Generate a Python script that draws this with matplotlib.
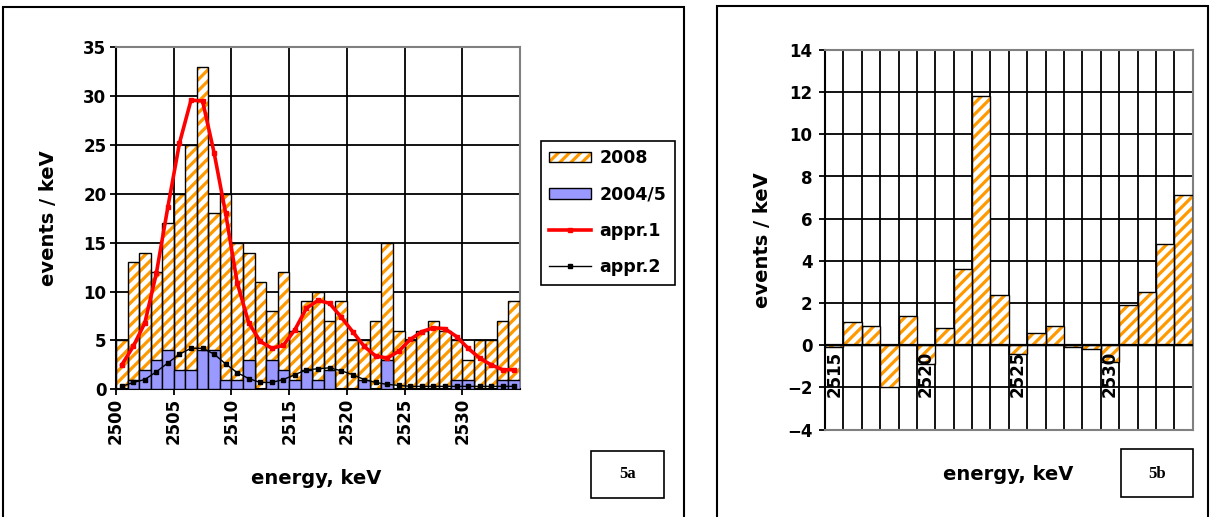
import matplotlib
matplotlib.use('Agg')
import matplotlib.pyplot as plt
from matplotlib.patches import Rectangle, Patch
from matplotlib.lines import Line2D
from matplotlib.legend_handler import HandlerTuple

plt.rcParams['font.family'] = ['DejaVu Sans']
plt.rcParams['font.weight'] = 'bold'
plt.rcParams['hatch.linewidth'] = 2.3

# ---------------- data ----------------
energy_a = list(range(2500, 2535))
counts_2008 = [5, 13, 14, 12, 17, 20, 25, 33, 18, 20, 15, 14, 11, 8, 12, 6, 9, 10,
               7, 9, 5, 5, 7, 15, 6, 5, 6, 7, 6, 5, 3, 5, 5, 7, 9]
counts_2004 = [0, 1, 2, 3, 4, 2, 2, 4, 4, 1, 1, 3, 0, 3, 2, 1, 2, 1,
               2, 0, 0, 1, 0, 3, 0, 0, 0, 0, 0, 1, 1, 0, 0, 1, 1]
appr1 = [2.5, 4.4, 6.8, 11.9, 18.7, 25.2, 29.6, 29.5, 24.2, 18.0, 10.9, 6.8, 4.9,
         4.2, 4.5, 6.1, 8.3, 9.1, 8.8, 7.4, 5.9, 4.4, 3.4, 3.2, 3.9, 5.1, 5.9, 6.3,
         6.2, 5.4, 4.2, 3.2, 2.5, 2.0, 2.0]
appr2 = [0.3, 0.7, 1.0, 1.8, 2.7, 3.6, 4.2, 4.2, 3.6, 2.6, 1.7, 1.1, 0.7, 0.7, 1.0,
         1.5, 2.0, 2.1, 2.2, 1.9, 1.5, 1.0, 0.7, 0.5, 0.4, 0.3, 0.3, 0.3, 0.3, 0.3,
         0.3, 0.3, 0.3, 0.3, 0.3]
xticks_a = [2500, 2505, 2510, 2515, 2520, 2525, 2530]

energy_b = list(range(2515, 2535))
diff_b = [-0.1, 1.1, 0.9, -2.0, 1.4, -0.9, 0.8, 3.6, 11.8, 2.4,
          -0.4, 0.6, 0.9, -0.1, -0.2, -0.8, 1.9, 2.5, 4.8, 7.1]
xlabels_b = [2515, 2520, 2525, 2530]

ORANGE = '#FF9900'
BLUE = '#9999FF'
GRAY = '#808080'

W, H = 1216, 517
fig = plt.figure(figsize=(W / 100, H / 100), dpi=100)


def fx(px):
    return px / W


def fy(py):
    return 1 - py / H


# panel frames
for (x0, y0, x1) in [(3.3, 6.7, 684), (717.3, 5.5, 1208.3)]:
    fig.add_artist(Rectangle((fx(x0), -0.1), fx(x1) - fx(x0), fy(y0) + 0.1,
                             transform=fig.transFigure, fill=False,
                             edgecolor='black', linewidth=1.5))

# ---------------- panel 5a ----------------
axA = fig.add_axes([fx(116), fy(389.3), fx(520) - fx(116), fy(47.3) - fy(389.3)])
axA.bar(energy_a, counts_2008, width=1, align='edge', color='white',
        edgecolor=ORANGE, linewidth=0, hatch='///', zorder=2)
axA.bar(energy_a, counts_2008, width=1, align='edge', fill=False,
        edgecolor='black', linewidth=1.0, zorder=3)
axA.bar(energy_a, counts_2004, width=1, align='edge', color=BLUE,
        edgecolor='black', linewidth=1.0, zorder=4)
centers = [e + 0.5 for e in energy_a]
axA.plot(centers, appr1, color='#FF0000', linewidth=2.6, marker='s',
         markersize=2.5, zorder=5)
axA.plot(centers, appr2, color='black', linewidth=1.0, marker='s',
         markersize=2.5, zorder=5)
axA.set_xlim(2500, 2535)
axA.set_ylim(0, 35)
axA.set_yticks(range(0, 36, 5))
axA.set_xticks(xticks_a)
axA.set_xticklabels([str(v) for v in xticks_a], rotation=90)
axA.grid(True, color='black', linewidth=1.3)
axA.set_axisbelow(True)
axA.tick_params(axis='both', labelsize=12, direction='out', length=4, width=1.3)
axA.tick_params(axis='x', pad=2)
axA.tick_params(axis='y', pad=3)
for s in ['left', 'bottom']:
    axA.spines[s].set_color('black')
    axA.spines[s].set_linewidth(1.5)
for s in ['top', 'right']:
    axA.spines[s].set_color(GRAY)
    axA.spines[s].set_linewidth(1.5)
for lab in axA.get_xticklabels() + axA.get_yticklabels():
    lab.set_fontweight('bold')

fig.text(fx(48), fy(218), 'events / keV', rotation=90, ha='center', va='center',
         fontsize=14, fontweight='bold')
fig.text(fx(316), fy(478), 'energy, keV', ha='center', va='center',
         fontsize=14, fontweight='bold')

h2008 = (Patch(facecolor='white', edgecolor=ORANGE, linewidth=0, hatch='///'),
         Patch(fill=False, edgecolor='black', linewidth=1.0))
h2004 = Patch(facecolor=BLUE, edgecolor='black', linewidth=1.0)
hA1 = Line2D([], [], color='#FF0000', linewidth=2.6, marker='s', markersize=2.5)
hA2 = Line2D([], [], color='black', linewidth=1.0, marker='s', markersize=2.5)
leg = fig.legend([h2008, h2004, hA1, hA2], ['2008', '2004/5', 'appr.1', 'appr.2'],
                 handler_map={tuple: HandlerTuple(ndivide=1)},
                 loc='upper left', bbox_to_anchor=(fx(540.7), fy(140.7)),
                 bbox_transform=fig.transFigure, borderaxespad=0,
                 prop={'size': 12.5, 'weight': 'bold'}, numpoints=1,
                 handlelength=2.4, handleheight=0.55, handletextpad=0.5,
                 labelspacing=1.05, borderpad=0.5, fancybox=False,
                 framealpha=1, edgecolor='black')
leg.get_frame().set_linewidth(1.2)

fig.add_artist(Rectangle((fx(591), fy(498)), fx(664) - fx(591), fy(451) - fy(498),
                         transform=fig.transFigure, fill=False,
                         edgecolor='black', linewidth=1.2))
fig.text(fx(627.5), fy(474.5), '5a', ha='center', va='center', fontsize=12,
         fontweight='bold', family=['Liberation Serif', 'DejaVu Serif'])

# ---------------- panel 5b ----------------
axB = fig.add_axes([fx(825), fy(429.5), fx(1192.7) - fx(825), fy(50) - fy(429.5)])
axB.bar(energy_b, diff_b, width=1, color='white', edgecolor=ORANGE,
        linewidth=0, hatch='///', zorder=2)
axB.bar(energy_b, diff_b, width=1, fill=False, edgecolor='black',
        linewidth=1.0, zorder=3)
axB.set_xlim(2514.5, 2534.5)
axB.set_ylim(-4, 14)
axB.set_yticks(range(-4, 15, 2))
axB.set_xticks([e + 0.5 for e in energy_b[:-1]], minor=True)
axB.set_xticks([])
axB.grid(True, which='major', axis='y', color='black', linewidth=1.3)
axB.grid(True, which='minor', axis='x', color='black', linewidth=1.3)
axB.set_axisbelow(True)
axB.tick_params(axis='x', which='minor', length=0)
axB.tick_params(axis='y', labelsize=12, direction='out', length=4, width=1.3, pad=5)
axB.axhline(0, color='black', linewidth=1.6, zorder=4)
axB.spines['left'].set_color('black')
axB.spines['left'].set_linewidth(1.5)
for s in ['top', 'right', 'bottom']:
    axB.spines[s].set_color(GRAY)
    axB.spines[s].set_linewidth(1.5)
for lab in axB.get_yticklabels():
    lab.set_fontweight('bold')
for v in xlabels_b:
    axB.annotate(str(v), xy=(v, 0), xytext=(0, -4), textcoords='offset points',
                 rotation=90, ha='center', va='top', fontsize=12,
                 fontweight='bold', zorder=6)

fig.text(fx(763), fy(240), 'events / keV', rotation=90, ha='center', va='center',
         fontsize=14, fontweight='bold')
fig.text(fx(1008), fy(475), 'energy, keV', ha='center', va='center',
         fontsize=14, fontweight='bold')

fig.add_artist(Rectangle((fx(1120.7), fy(497.3)), fx(1193.3) - fx(1120.7),
                         fy(449.3) - fy(497.3), transform=fig.transFigure,
                         fill=False, edgecolor='black', linewidth=1.2))
fig.text(fx(1157), fy(473.5), '5b', ha='center', va='center', fontsize=12,
         fontweight='bold', family=['Liberation Serif', 'DejaVu Serif'])

fig.savefig('out.png', dpi=100, facecolor='white')
